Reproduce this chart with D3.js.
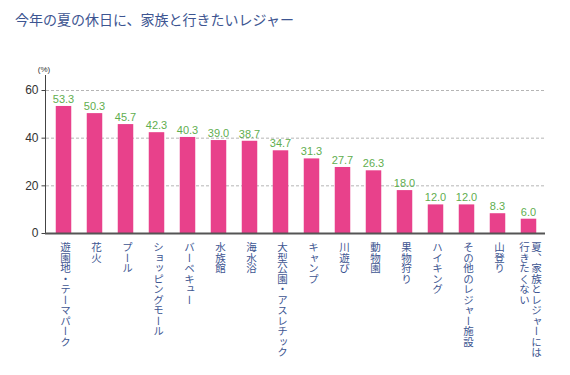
<!DOCTYPE html>
<html>
<head>
<meta charset="utf-8">
<script src="https://cdn.jsdelivr.net/npm/d3@7"></script>
<style>
  body { margin: 0; background: #fff; }
</style>
</head>
<body>
<div id="chart"></div>
<script>
const categories = [
  "遊園地・テーマパーク", "花火", "プール", "ショッピングモール", "バーベキュー",
  "水族館", "海水浴", "大型公園・アスレチック", "キャンプ", "川遊び",
  "動物園", "果物狩り", "ハイキング", "その他のレジャー施設", "山登り",
  "夏、家族とレジャーには\n行きたくない"
];
const values = [53.3, 50.3, 45.7, 42.3, 40.3, 39.0, 38.7, 34.7, 31.3, 27.7, 26.3, 18.0, 12.0, 12.0, 8.3, 6.0];
const yTicks = [0, 20, 40, 60];
const title = "今年の夏の休日に、家族と行きたいレジャー";

const width = 570, height = 375;
const marginLeft = 46, marginRight = 25;
const y0 = 233, yTop = 90;

const jp = "'Noto Sans CJK JP', sans-serif";
const num = "'Liberation Sans', Arial, sans-serif";

const svg = d3.select("#chart")
  .append("svg")
  .attr("width", width)
  .attr("height", height);

// Title
svg.append("text")
  .attr("x", 15)
  .attr("y", 25)
  .attr("fill", "#3d5591")
  .attr("font-size", "14px")
  .attr("font-family", jp)
  .text(title);

// Scales
const x = d3.scaleBand()
  .domain(categories)
  .range([48, 544])
  .paddingInner(0.5)
  .paddingOuter(0.25);

const y = d3.scaleLinear()
  .domain([0, 60])
  .range([y0, yTop]);

// Gridlines (dashed)
svg.append("g")
  .selectAll("line")
  .data(yTicks.filter(d => d > 0))
  .join("line")
  .attr("x1", marginLeft)
  .attr("x2", width - marginRight)
  .attr("y1", d => y(d) + 0.5)
  .attr("y2", d => y(d) + 0.5)
  .attr("stroke", "#b5b5b5")
  .attr("stroke-dasharray", "3,2");

// Y axis
svg.append("g")
  .attr("transform", `translate(${marginLeft - 0.5},0)`)
  .call(d3.axisLeft(y).tickValues(yTicks).tickSize(4).tickPadding(3))
  .call(g => g.select(".domain").remove())
  .call(g => g.selectAll(".tick line").attr("stroke", "#444"))
  .call(g => g.selectAll(".tick text")
    .attr("fill", "#333")
    .attr("font-size", "12px")
    .attr("font-family", num));

svg.append("line")
  .attr("x1", marginLeft - 0.5)
  .attr("x2", marginLeft - 0.5)
  .attr("y1", 75)
  .attr("y2", y0)
  .attr("stroke", "#444");

svg.append("text")
  .attr("x", 44)
  .attr("y", 72)
  .attr("text-anchor", "middle")
  .attr("fill", "#333")
  .attr("font-size", "8px")
  .attr("font-family", num)
  .text("(%)");

// Bars
svg.append("g")
  .selectAll("rect")
  .data(values)
  .join("rect")
  .attr("x", (d, i) => x(categories[i]))
  .attr("y", d => y(d))
  .attr("width", x.bandwidth())
  .attr("height", d => y(0) - y(d))
  .attr("fill", "#e8418b");

// Baseline
svg.append("line")
  .attr("x1", marginLeft - 1)
  .attr("x2", width - marginRight)
  .attr("y1", y0 + 0.5)
  .attr("y2", y0 + 0.5)
  .attr("stroke", "#555")
  .attr("stroke-width", 2);

// Value labels
svg.append("g")
  .selectAll("text")
  .data(values)
  .join("text")
  .attr("x", (d, i) => x(categories[i]) + x.bandwidth() / 2)
  .attr("y", d => y(d) - 3)
  .attr("text-anchor", "middle")
  .attr("fill", "#5fae4f")
  .attr("font-size", "11px")
  .attr("font-family", num)
  .text(d => d.toFixed(1));

// Category labels (vertical)
const catG = svg.append("g")
  .selectAll("g")
  .data(categories)
  .join("g")
  .attr("transform", d => `translate(${x(d) + x.bandwidth() / 2},242)`);

catG.each(function (d) {
  const lines = d.split("\n");
  const colW = 12;
  lines.forEach((line, j) => {
    const off = (lines.length - 1) * colW / 2 - j * colW;
    d3.select(this).append("text")
      .attr("x", off + 2)
      .attr("y", 0)
      .attr("style", "writing-mode: vertical-rl; text-orientation: upright;")
      .attr("fill", "#3d5591")
      .attr("font-size", "10.5px")
      .attr("font-family", jp)
      .text(line);
  });
});
</script>
</body>
</html>
